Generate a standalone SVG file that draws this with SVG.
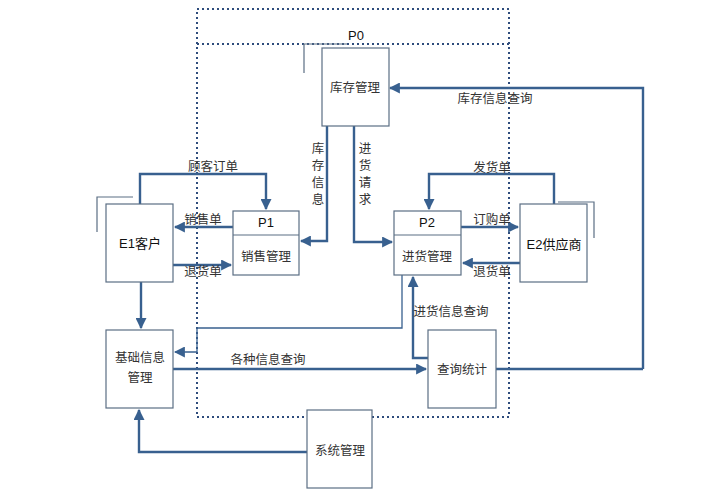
<svg xmlns="http://www.w3.org/2000/svg" width="724" height="500" viewBox="0 0 724 500">
<style>
.box{fill:#fff;stroke:#5b6e84;stroke-width:1.2}
.sh{fill:none;stroke:#5b6e84;stroke-width:1.2}
.c{fill:none;stroke:#38608f;stroke-width:2.4}
.ct{fill:none;stroke:#38608f;stroke-width:1.3}
.dot{fill:none;stroke:#2e4c7c;stroke-width:2;stroke-dasharray:2 3}
text{font-family:"Liberation Sans","Noto Sans CJK SC",sans-serif;font-size:12.5px;fill:#333;text-anchor:middle}
.lb{font-size:13px;fill:#111}
</style>
<defs>
<marker id="ar" viewBox="0 0 10 10" refX="9" refY="5" markerWidth="11" markerHeight="11" markerUnits="userSpaceOnUse" orient="auto">
<path d="M0,0 L10,5 L0,10 z" fill="#38608f"/>
</marker>
</defs>
<g id="P0">
<rect class="dot" x="197" y="9" width="312" height="408"/>
<line class="dot" x1="197" y1="44" x2="509" y2="44"/>
<text class="lb" x="356" y="40">P0</text>
</g>
<g id="connectors">
<path class="c" d="M643,369 H496 M643,369 V88 H390" marker-end="url(#ar)"/>
<path class="c" d="M327,126 V241 H301" marker-end="url(#ar)"/>
<path class="c" d="M354,126 V242 H392" marker-end="url(#ar)"/>
<path class="c" d="M140,204 V174 H266 V209" marker-end="url(#ar)"/>
<path class="c" d="M233,227 H175" marker-end="url(#ar)"/>
<path class="c" d="M173,265 H231" marker-end="url(#ar)"/>
<path class="c" d="M554,204 V174 H429 V209" marker-end="url(#ar)"/>
<path class="c" d="M461,227 H518" marker-end="url(#ar)"/>
<path class="c" d="M520,263 H463" marker-end="url(#ar)"/>
<path class="c" d="M141,282 V328" marker-end="url(#ar)"/>
<path class="c" d="M428,358 H413 V277" marker-end="url(#ar)"/>
<path class="ct" d="M402,275 V328 H197 V352 H175" marker-end="url(#ar)"/>
<path class="c" d="M173,369 H426" marker-end="url(#ar)"/>
<path class="c" d="M307,452 H139 V410" marker-end="url(#ar)"/>
<text x="495" y="103">库存信息查询</text>
<text x="318" y="153">库</text>
<text x="318" y="170">存</text>
<text x="318" y="187">信</text>
<text x="318" y="204">息</text>
<text x="365" y="153">进</text>
<text x="365" y="170">货</text>
<text x="365" y="187">请</text>
<text x="365" y="204">求</text>
<text x="213" y="171">顾客订单</text>
<text x="203" y="224">销售单</text>
<text x="203" y="276">退货单</text>
<text x="492" y="172">发货单</text>
<text x="492" y="224">订购单</text>
<text x="492" y="276">退货单</text>
<text x="451" y="316">进货信息查询</text>
<text x="268" y="364">各种信息查询</text>
</g>
<g id="kucun">
<path class="sh" d="M304,73 V44 H347"/>
<rect class="box" x="322" y="48" width="67" height="78"/>
<text x="355" y="92">库存管理</text>
</g>
<g id="E1">
<path class="sh" d="M97,232 V197 H133"/>
<rect class="box" x="106" y="204" width="67" height="78"/>
<text class="lb" x="140" y="248">E1客户</text>
</g>
<g id="P1">
<rect class="box" x="233" y="211" width="66" height="64"/>
<line class="sh" x1="233" y1="235" x2="299" y2="235"/>
<text class="lb" x="266" y="227">P1</text>
<text x="266" y="261">销售管理</text>
</g>
<g id="P2">
<rect class="box" x="394" y="211" width="67" height="64"/>
<line class="sh" x1="394" y1="235" x2="461" y2="235"/>
<text class="lb" x="427" y="227">P2</text>
<text x="427" y="261">进货管理</text>
</g>
<g id="E2">
<path class="sh" d="M558,202 H594 V238"/>
<rect class="box" x="520" y="204" width="67" height="78"/>
<text class="lb" x="554" y="249">E2供应商</text>
</g>
<g id="jichu">
<rect class="box" x="106" y="330" width="67" height="78"/>
<text x="140" y="362">基础信息</text>
<text x="140" y="382">管理</text>
</g>
<g id="chaxun">
<rect class="box" x="428" y="330" width="68" height="78"/>
<text x="462" y="374">查询统计</text>
</g>
<g id="xitong">
<rect class="box" x="307" y="410" width="65" height="78"/>
<text x="340" y="455">系统管理</text>
</g>
</svg>
